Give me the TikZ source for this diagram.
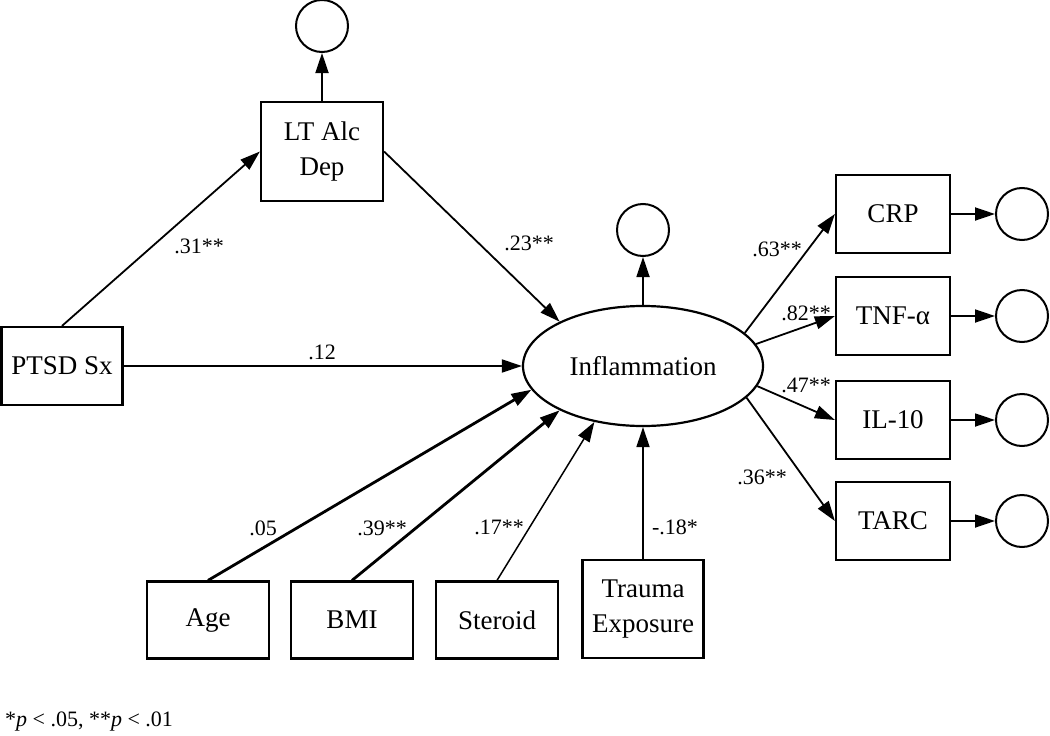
\documentclass[tikz,border=0pt]{standalone}
\usepackage{fontspec}
\setmainfont{Liberation Serif}
\usetikzlibrary{arrows.meta,shapes.geometric}
\begin{document}
\begin{tikzpicture}[x=1pt,y=-1pt,
  box/.style={draw,line width=2.2pt,inner sep=0pt,align=center,font=\fontsize{27}{35}\selectfont},
  err/.style={draw,circle,line width=2pt,minimum size=52pt,inner sep=0pt},
  lat/.style={draw,ellipse,line width=2.2pt,minimum width=240pt,minimum height=120pt,inner sep=0pt,font=\fontsize{27}{35}\selectfont},
  conn/.style={line width=1.8pt,-{Triangle[length=20pt,width=13pt]}},
  lbl/.style={font=\fontsize{22}{26}\selectfont,inner sep=0pt}
]
\useasboundingbox (0,0) rectangle (1050,736);

% nodes
\node[box,minimum width=121pt,minimum height=78pt] (ptsd) at (62,366) {PTSD Sx};
\node[box,minimum width=122pt,minimum height=99pt] (lt) at (322,151.5) {LT Alc\\Dep};
\node[err] (elt) at (322,26) {};
\node[lat] (infl) at (643,366) {Inflammation};
\node[err] (einf) at (643,230) {};

\node[box,minimum width=114pt,minimum height=78pt] (crp) at (893,214) {CRP};
\node[box,minimum width=114pt,minimum height=78pt] (tnf) at (893,316) {TNF-α};
\node[box,minimum width=114pt,minimum height=78pt] (il) at (893,420) {IL-10};
\node[box,minimum width=114pt,minimum height=78pt] (tarc) at (893,521) {TARC};
\node[err] (ecrp) at (1022,214) {};
\node[err] (etnf) at (1022,316) {};
\node[err] (eil) at (1022,420) {};
\node[err] (etarc) at (1022,521) {};

\node[box,minimum width=122pt,minimum height=77pt] (age) at (208,620) {Age};
\node[box,minimum width=122pt,minimum height=77pt] (bmi) at (352,620) {BMI};
\node[box,minimum width=122pt,minimum height=77pt] (ster) at (497,620) {Steroid};
\node[box,minimum width=121pt,minimum height=98pt] (trauma) at (643,609) {Trauma\\Exposure};

% connectors
\draw[conn] (ptsd.north) -- (lt.west);
\draw[conn] (lt.north) -- (elt.south);
\draw[conn] (lt.east) -- (infl.152.9);
\draw[conn] (ptsd.east) -- (infl.west);
\draw[conn] (infl.north) -- (einf.south);
\draw[conn] (infl.18.1) -- (crp.west);
\draw[conn] (infl.11.3) -- (tnf.west);
\draw[conn] (infl.-10.6) -- (il.west);
\draw[conn] (infl.-17.4) -- (tarc.west);
\draw[conn] (crp.east) -- (ecrp.west);
\draw[conn] (tnf.east) -- (etnf.west);
\draw[conn] (il.east) -- (eil.west);
\draw[conn] (tarc.east) -- (etarc.west);
\draw[conn,line width=2.8pt] (age.north) -- (infl.192.2);
\draw[conn,line width=2.8pt] (bmi.north) -- (infl.208.5);
\draw[conn,line width=1.5pt] (ster.north) -- (infl.229.9);
\draw[conn] (trauma.north) -- (infl.south);

% labels
\node[lbl] (l31) at (199,246) {.31**};
\node[lbl] (l12) at (322,352) {.12};
\node[lbl] (l23) at (529,243) {.23**};
\node[lbl] (l63) at (777,249) {.63**};
\node[lbl] (l82) at (806,313) {.82**};
\node[lbl] (l47) at (806,385) {.47**};
\node[lbl] (l36) at (762,477) {.36**};
\node[lbl] (l05) at (263,528) {.05};
\node[lbl] (l39) at (382,528) {.39**};
\node[lbl] (l17) at (499,527) {.17**};
\node[lbl] (l18) at (675,527) {-.18*};
\node[lbl,anchor=west] (note) at (5,722) {*\textit{p} < .05, **\textit{p} < .01};
\end{tikzpicture}
\end{document}
